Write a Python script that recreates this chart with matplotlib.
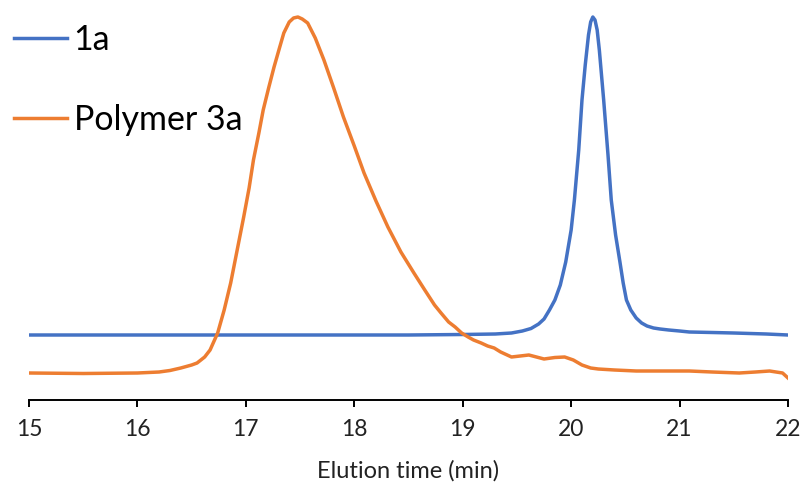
import matplotlib
matplotlib.use("Agg")
import matplotlib.pyplot as plt

plt.rcParams['font.family'] = ['Lato', 'DejaVu Sans']

# elution time (min) and detector signal (arbitrary units)
time_1a = [15.0, 15.5, 16.0, 16.5, 17.0, 17.5, 18.0, 18.5, 19.0, 19.3, 19.45, 19.55,
           19.63, 19.7, 19.75, 19.8, 19.85, 19.9, 19.95, 20.0, 20.03, 20.07, 20.10,
           20.13, 20.16, 20.18, 20.2, 20.22, 20.24, 20.26, 20.30, 20.34, 20.37, 20.41,
           20.45, 20.48, 20.51, 20.55, 20.6, 20.65, 20.7, 20.76, 20.82, 20.9, 21.0,
           21.09, 21.3, 21.5, 21.8, 22.0]
signal_1a = [65, 65, 65, 65, 65, 65, 65, 65, 65.5, 66, 67, 69,
             71.5, 76, 81, 90, 100, 115, 138, 170, 200, 250, 300,
             335, 365, 378, 383, 380, 370, 350, 300, 245, 200, 165,
             138, 117, 100, 90, 82, 77, 74, 72, 71, 70, 69,
             68, 67.5, 67, 66, 65]

time_3a = [15.0, 15.5, 16.0, 16.2, 16.3, 16.4, 16.5, 16.55, 16.62, 16.67, 16.74, 16.8,
           16.86, 16.92, 16.98, 17.03, 17.07, 17.12, 17.16, 17.21, 17.26, 17.31, 17.35,
           17.40, 17.44, 17.48, 17.52, 17.57, 17.64, 17.72, 17.81, 17.90, 18.0, 18.09,
           18.2, 18.31, 18.43, 18.55, 18.65, 18.74, 18.8, 18.87, 18.93, 18.99, 19.05,
           19.1, 19.17, 19.23, 19.29, 19.35, 19.45, 19.53, 19.61, 19.68, 19.75, 19.85,
           19.94, 20.02, 20.1, 20.18, 20.25, 20.4, 20.6, 20.77, 21.09, 21.3, 21.55,
           21.7, 21.83, 21.95, 22.0]
signal_3a = [27, 26.5, 27, 28, 29.5, 32, 35, 37, 43, 50, 67, 90,
             117, 150, 183, 212, 240, 267, 290, 312, 333, 352, 367,
             378, 382, 383, 381, 377, 362, 340, 312, 283, 254, 227,
             199, 173, 148, 127, 110, 95, 87, 78, 73, 67, 63,
             60, 57, 54, 52, 48, 43, 44, 45, 43, 41, 42.5,
             43, 40, 35, 32, 31, 30, 29, 29, 29, 28, 27,
             28, 29, 27, 22]

xticks = [15, 16, 17, 18, 19, 20, 21, 22]

fig = plt.figure(figsize=(8.04, 4.93), dpi=100)
ax = fig.add_axes([29 / 804, 93 / 493, 759 / 804, 395 / 493])

ax.plot(time_1a, signal_1a, color='#4472C4', lw=2.5, label='1a')
ax.plot(time_3a, signal_3a, color='#ED7D31', lw=2.5, label='Polymer 3a')

ax.set_xlim(15, 22)
ax.set_ylim(0, 395)
ax.set_xticks(xticks)
ax.set_yticks([])
for s in ['left', 'top', 'right']:
    ax.spines[s].set_visible(False)
ax.spines['bottom'].set_linewidth(1.4)
ax.tick_params(axis='x', direction='out', length=5, width=1.4, pad=9,
               labelsize=16.5, colors='black', labelcolor='#222222')
ax.set_xlabel('Elution time (min)', fontsize=17, color='#222222', labelpad=14)

leg = ax.legend(loc='upper left', bbox_to_anchor=(14 / 804, 1 - 24 / 493),
                bbox_transform=fig.transFigure, frameon=False, fontsize=24.5,
                handlelength=1.55, handletextpad=0.2, labelspacing=1.4,
                borderaxespad=0, borderpad=0)

fig.savefig('out.png', dpi=100)
